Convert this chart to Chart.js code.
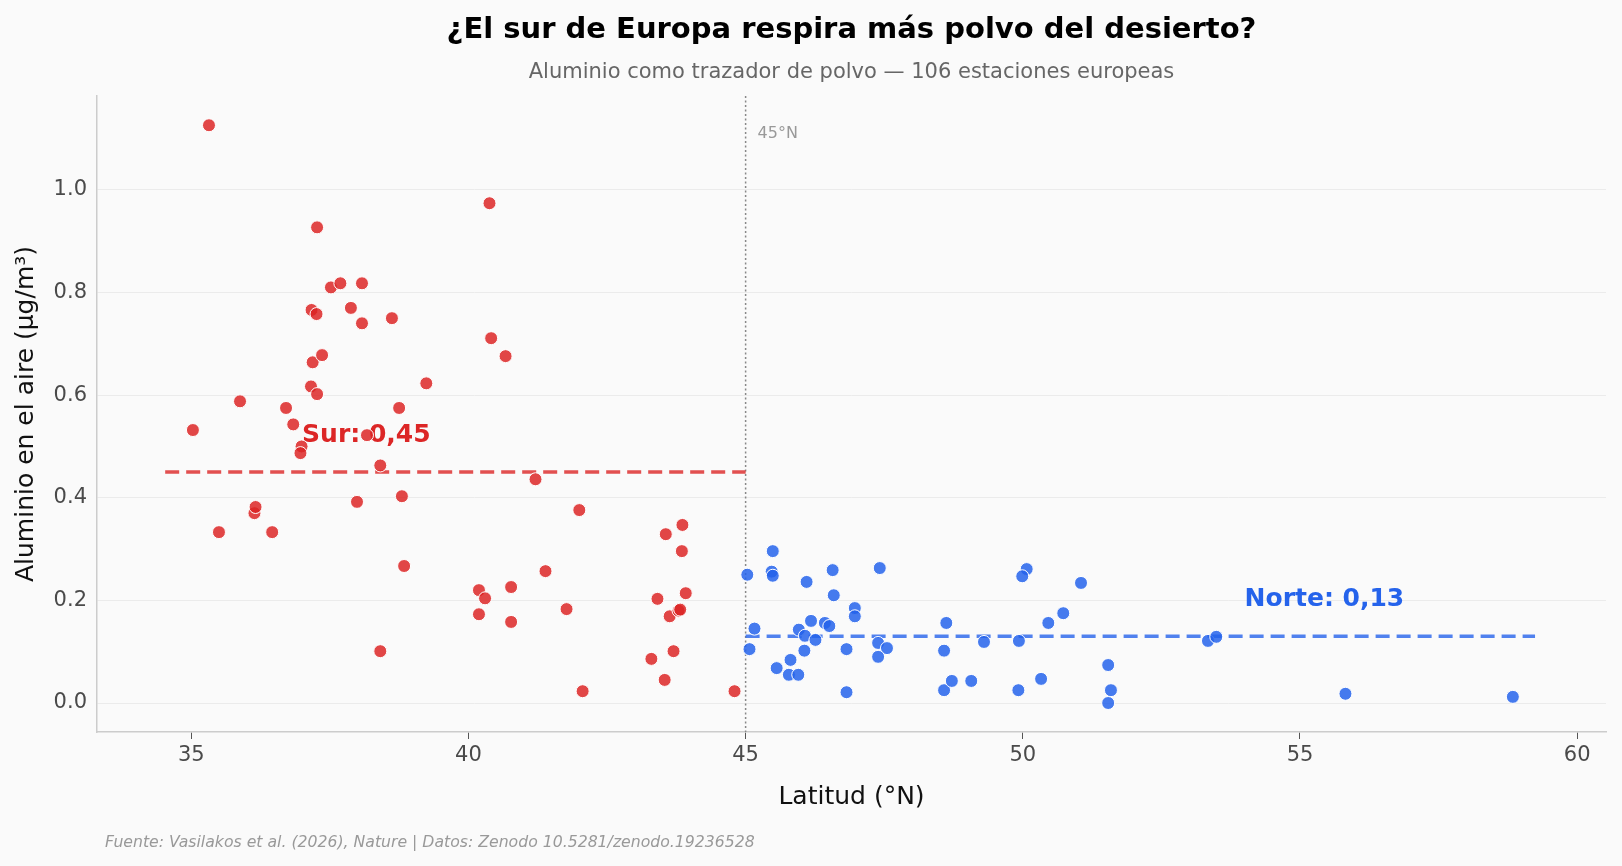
<!DOCTYPE html>
<html lang="es">
<head>
<meta charset="utf-8">
<title>Polvo del desierto</title>
<script src="https://cdn.jsdelivr.net/npm/chart.js@4.4.1/dist/chart.umd.min.js"></script>
<style>
  html, body { margin: 0; padding: 0; background: #fafafa; }
  #wrap { width: 1622px; height: 866px; }
</style>
</head>
<body>
<div id="wrap"><canvas id="grafico" width="1622" height="866"></canvas></div>
<script>
// estaciones al sur de 45°N
const latSur = [35.32, 35.03, 35.50, 35.88, 36.14, 36.16, 36.46, 36.71, 36.84, 36.99, 36.97, 37.16, 37.27, 37.17, 37.26,
  37.19, 37.36, 37.27, 37.52, 37.69, 37.88, 38.08, 38.08, 37.99, 38.17, 38.41, 38.41, 38.62, 38.75, 38.80,
  38.84, 39.24, 40.38, 40.41, 40.67, 40.19, 40.30, 40.19, 40.77, 40.77, 41.21, 41.39, 41.77, 42.00, 42.06,
  43.30, 43.41, 43.54, 43.56, 43.63, 43.70, 43.79, 43.82, 43.85, 43.86, 43.92, 44.80];
const alSur = [1.126, 0.532, 0.333, 0.588, 0.370, 0.382, 0.333, 0.575, 0.543, 0.500, 0.487, 0.617, 0.602, 0.766, 0.758,
  0.664, 0.678, 0.927, 0.810, 0.818, 0.770, 0.818, 0.740, 0.392, 0.522, 0.463, 0.101, 0.750, 0.575, 0.403,
  0.267, 0.623, 0.974, 0.711, 0.676, 0.220, 0.204, 0.173, 0.226, 0.158, 0.436, 0.257, 0.183, 0.376, 0.023,
  0.086, 0.203, 0.045, 0.329, 0.169, 0.101, 0.180, 0.182, 0.296, 0.347, 0.214, 0.023];

// estaciones al norte de 45°N
const latNorte = [45.03, 45.07, 45.16, 45.49, 45.47, 45.49, 46.10, 46.57, 46.59, 47.42, 46.97, 46.97, 46.18, 46.43, 46.51,
  45.96, 46.07, 46.26, 46.06, 45.81, 45.56, 45.78, 45.95, 46.82, 46.82, 47.39, 47.55, 47.39, 48.62, 48.58,
  48.58, 48.72, 49.07, 49.30, 50.07, 49.99, 49.93, 49.92, 50.33, 50.46, 50.73, 51.05, 51.54, 51.59, 51.54,
  53.34, 53.49, 55.82, 58.84];
const alNorte = [0.250, 0.105, 0.145, 0.296, 0.256, 0.248, 0.236, 0.259, 0.210, 0.263, 0.185, 0.169, 0.160, 0.156, 0.150,
  0.143, 0.131, 0.123, 0.102, 0.084, 0.068, 0.055, 0.055, 0.105, 0.021, 0.117, 0.107, 0.090, 0.156, 0.102,
  0.025, 0.043, 0.043, 0.119, 0.261, 0.247, 0.121, 0.025, 0.047, 0.156, 0.175, 0.234, 0.074, 0.025, 0.000,
  0.121, 0.129, 0.018, 0.012];

const mediaSur = 0.45;
const mediaNorte = 0.13;
const corte = 45;
const ticksX = [35, 40, 45, 50, 55, 60];
const ticksY = [0, 0.2, 0.4, 0.6, 0.8, 1.0];

const rojo = '#dc2626';
const azul = '#2563eb';
const fuente = "'DejaVu Sans', sans-serif";

const puntos = (xs, ys) => xs.map((x, i) => ({ x: x, y: ys[i] }));

// textos y línea de corte, dibujados con las escalas de Chart.js
const anotaciones = {
  id: 'anotaciones',
  beforeDatasetsDraw(chart) {
    const { ctx, chartArea, scales } = chart;
    const xc = scales.x.getPixelForValue(corte);
    ctx.save();
    ctx.strokeStyle = '#888';
    ctx.lineWidth = 1.5;
    ctx.setLineDash([2, 2.5]);
    ctx.beginPath();
    ctx.moveTo(xc, chartArea.top);
    ctx.lineTo(xc, chartArea.bottom);
    ctx.stroke();
    ctx.setLineDash([]);

    ctx.fillStyle = '#999';
    ctx.font = '16px ' + fuente;
    ctx.textBaseline = 'middle';
    ctx.textAlign = 'left';
    ctx.fillText(corte + '°N', xc + 12, chartArea.top + 38);

    ctx.font = 'bold 25px ' + fuente;
    ctx.fillStyle = rojo;
    ctx.fillText('Sur: ' + mediaSur.toFixed(2).replace('.', ','), scales.x.getPixelForValue(37.0), scales.y.getPixelForValue(mediaSur) - 37);
    ctx.fillStyle = azul;
    ctx.fillText('Norte: ' + mediaNorte.toFixed(2).replace('.', ','), scales.x.getPixelForValue(54.0), scales.y.getPixelForValue(mediaNorte) - 37);
    ctx.restore();
  },
  afterDraw(chart) {
    const { ctx, chartArea } = chart;
    const centro = (chartArea.left + chartArea.right) / 2;
    ctx.save();
    ctx.textAlign = 'center';
    ctx.textBaseline = 'middle';
    ctx.fillStyle = '#000';
    ctx.font = 'bold 29px ' + fuente;
    ctx.fillText('¿El sur de Europa respira más polvo del desierto?', centro, 30);
    ctx.fillStyle = '#666';
    ctx.font = '21px ' + fuente;
    ctx.fillText('Aluminio como trazador de polvo — 106 estaciones europeas', centro, 73);
    ctx.textAlign = 'left';
    ctx.fillStyle = '#999';
    ctx.font = 'italic 15.7px ' + fuente;
    ctx.fillText('Fuente: Vasilakos et al. (2026), Nature | Datos: Zenodo 10.5281/zenodo.19236528', 105, 843);
    ctx.restore();
  }
};

new Chart(document.getElementById('grafico'), {
  type: 'scatter',
  data: {
    datasets: [
      {
        label: 'Sur',
        data: puntos(latSur, alSur),
        backgroundColor: 'rgba(220,38,38,0.85)',
        borderColor: '#ffffff',
        borderWidth: 1,
        pointRadius: 6.5,
        order: 0
      },
      {
        label: 'Norte',
        data: puntos(latNorte, alNorte),
        backgroundColor: 'rgba(37,99,235,0.85)',
        borderColor: '#ffffff',
        borderWidth: 1,
        pointRadius: 6.5,
        order: 0
      },
      {
        type: 'line',
        label: 'Media sur',
        data: [{ x: Math.min(...latSur) - 0.5, y: mediaSur }, { x: corte, y: mediaSur }],
        borderColor: 'rgba(220,38,38,0.8)',
        borderWidth: 3.5,
        borderDash: [14, 7],
        pointRadius: 0,
        order: 1
      },
      {
        type: 'line',
        label: 'Media norte',
        data: [{ x: corte, y: mediaNorte }, { x: Math.max(...latNorte) + 0.4, y: mediaNorte }],
        borderColor: 'rgba(37,99,235,0.8)',
        borderWidth: 3.5,
        borderDash: [14, 7],
        pointRadius: 0,
        order: 1
      }
    ]
  },
  options: {
    responsive: false,
    animation: false,
    devicePixelRatio: 1,
    layout: { padding: { top: 96, right: 16, left: 0, bottom: 0 } },
    plugins: {
      legend: { display: false },
      tooltip: { enabled: false }
    },
    scales: {
      x: {
        type: 'linear',
        min: 33.30,
        max: 60.52,
        afterFit: (s) => { s.height = 134; },
        afterBuildTicks: (s) => { s.ticks = ticksX.map(v => ({ value: v })); },
        grid: { drawOnChartArea: false, drawTicks: true, tickLength: 7, tickColor: '#555' },
        border: { color: '#ccc', width: 1.5 },
        ticks: { color: '#4a4a4a', padding: 4, font: { family: fuente, size: 21 } },
        title: {
          display: true,
          text: 'Latitud (°N)',
          color: '#111',
          font: { family: fuente, size: 25 },
          padding: { top: 0, bottom: 54 }
        }
      },
      y: {
        type: 'linear',
        min: -0.0565,
        max: 1.183,
        afterFit: (s) => { s.width = 97; },
        afterBuildTicks: (s) => { s.ticks = ticksY.map(v => ({ value: v })); },
        grid: { color: '#ebebeb', lineWidth: 1, drawTicks: false },
        border: { color: '#ccc', width: 1.5 },
        ticks: {
          color: '#4a4a4a',
          padding: 10,
          font: { family: fuente, size: 21 },
          callback: (v) => v.toFixed(1)
        },
        title: {
          display: true,
          text: 'Aluminio en el aire (µg/m³)',
          color: '#111',
          font: { family: fuente, size: 25 },
          padding: { top: 11, bottom: 0 }
        }
      }
    }
  },
  plugins: [anotaciones]
});
</script>
</body>
</html>
